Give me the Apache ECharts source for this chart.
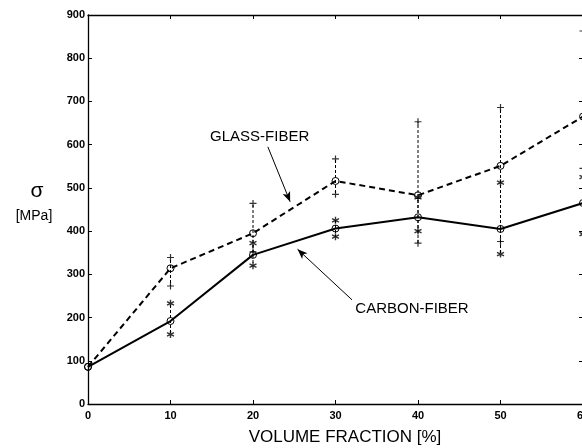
<!DOCTYPE html>
<html>
<head>
<meta charset="utf-8">
<script src="https://cdn.jsdelivr.net/npm/echarts@6/dist/echarts.min.js"></script>
<style>
  html, body { margin: 0; padding: 0; background: #fff; }
  #main { width: 582px; height: 448px; }
</style>
</head>
<body>
<div id="main"></div>
<script>
// volume fraction [%]
var fractions = [0, 10, 20, 30, 40, 50, 60];
// glass fiber: mean, max, min  [MPa]
var glassMean = [86, 314, 395, 516, 483, 551, 665];
var glassMax  = [null, 339, 464, 567, 653, 686, 863];
var glassMin  = [null, 273, 352, 485, 372, 376, 545];
// carbon fiber: mean, max, min  [MPa]
var carbonMean = [86, 192, 345, 406, 432, 405, 465];
var carbonMax  = [null, 233, 372, 425, 478, 512, 525];
var carbonMin  = [null, 161, 320, 387, 400, 347, 393];

var plusPath = 'path://M0,-1L0,1M-1,0L1,0';
var starPath = 'path://M0,-1L0,1M-0.87,-0.5L0.87,0.5M-0.87,0.5L0.87,-0.5';

function pairs(ys) {
  var out = [];
  for (var i = 0; i < fractions.length; i++) {
    if (ys[i] != null) out.push([fractions[i], ys[i]]);
  }
  return out;
}
function ranges(lo, hi) {
  var out = [];
  for (var i = 0; i < fractions.length; i++) {
    if (lo[i] != null && hi[i] != null) out.push([fractions[i], lo[i], hi[i]]);
  }
  return out;
}
// dashed vertical bar, dash phase tied to the page so overlapping bars stay dashed
function errBar(params, api) {
  var top = api.coord([api.value(0), api.value(2)]);
  var bot = api.coord([api.value(0), api.value(1)]);
  return {
    type: 'line',
    shape: { x1: top[0], y1: top[1], x2: bot[0], y2: bot[1] },
    style: { stroke: '#000', lineWidth: 1, lineDash: [3, 2], lineDashOffset: top[1] % 5 }
  };
}
function tick() {
  return { show: true, inside: true, length: 4, lineStyle: { color: '#000', width: 1 } };
}
function axLine() {
  return { show: true, onZero: false, lineStyle: { color: '#000', width: 1.3 } };
}

var font = 'Liberation Sans, Arial, Helvetica, sans-serif';
var chart = echarts.init(document.getElementById('main'));

var option = {
  animation: false,
  backgroundColor: '#fff',
  grid: { left: 88, top: 15, width: 495, height: 389, containLabel: false, outerBoundsMode: 'none' },
  xAxis: [
    {
      type: 'value', min: 0, max: 60, interval: 10, position: 'bottom',
      axisLine: axLine(), axisTick: tick(), splitLine: { show: false },
      axisLabel: { color: '#000', fontFamily: font, fontWeight: 'bold', fontSize: 11, margin: 6 }
    },
    {
      type: 'value', min: 0, max: 60, interval: 10, position: 'top',
      axisLine: axLine(), axisTick: tick(), splitLine: { show: false },
      axisLabel: { show: false }
    }
  ],
  yAxis: [
    {
      type: 'value', min: 0, max: 900, interval: 100, position: 'left',
      axisLine: axLine(), axisTick: tick(), splitLine: { show: false },
      axisLabel: { color: '#000', fontFamily: font, fontWeight: 'bold', fontSize: 11, margin: 3 }
    },
    {
      type: 'value', min: 0, max: 900, interval: 100, position: 'right',
      axisLine: axLine(), axisTick: tick(), splitLine: { show: false },
      axisLabel: { show: false }
    }
  ],
  series: [
    {
      name: 'glass range', type: 'custom', renderItem: errBar, clip: false, z: 1,
      encode: { x: 0, y: [1, 2] }, data: ranges(glassMin, glassMax)
    },
    {
      name: 'carbon range', type: 'custom', renderItem: errBar, clip: false, z: 1,
      encode: { x: 0, y: [1, 2] }, data: ranges(carbonMin, carbonMax)
    },
    {
      name: 'glass max', type: 'scatter', symbol: plusPath, symbolSize: 7, z: 2,
      itemStyle: { color: 'none', borderColor: '#000', borderWidth: 1.2 },
      data: pairs(glassMax)
    },
    {
      name: 'glass min', type: 'scatter', symbol: plusPath, symbolSize: 7, z: 2,
      itemStyle: { color: 'none', borderColor: '#000', borderWidth: 1.2 },
      data: pairs(glassMin)
    },
    {
      name: 'carbon max', type: 'scatter', symbol: starPath, symbolSize: 7, z: 2,
      itemStyle: { color: 'none', borderColor: '#000', borderWidth: 1.4 },
      data: pairs(carbonMax)
    },
    {
      name: 'carbon min', type: 'scatter', symbol: starPath, symbolSize: 7, z: 2,
      itemStyle: { color: 'none', borderColor: '#000', borderWidth: 1.4 },
      data: pairs(carbonMin)
    },
    {
      name: 'GLASS-FIBER', type: 'line', z: 3,
      symbol: 'circle', symbolSize: 7,
      itemStyle: { color: 'none', borderColor: '#000', borderWidth: 1 },
      lineStyle: { color: '#000', width: 2, type: [6, 4] },
      data: pairs(glassMean),
      markLine: {
        silent: true, symbol: ['none', 'arrow'], symbolSize: [6, 10],
        label: { show: false },
        lineStyle: { color: '#000', width: 1, type: 'solid' },
        data: [[{ coord: [21.8, 595] }, { coord: [24.5, 468] }]]
      }
    },
    {
      name: 'CARBON-FIBER', type: 'line', z: 3,
      symbol: 'circle', symbolSize: 7,
      itemStyle: { color: 'none', borderColor: '#000', borderWidth: 1 },
      lineStyle: { color: '#000', width: 2, type: 'solid' },
      data: pairs(carbonMean),
      markLine: {
        silent: true, symbol: ['none', 'arrow'], symbolSize: [6, 10],
        label: { show: false },
        lineStyle: { color: '#000', width: 1, type: 'solid' },
        data: [[{ coord: [32.0, 241] }, { coord: [25.4, 358] }]]
      }
    }
  ]
};
chart.setOption(option);

var gPos = chart.convertToPixel({ gridIndex: 0 }, [14.8, 618]);
var cPos = chart.convertToPixel({ gridIndex: 0 }, [32.4, 220]);
chart.setOption({
  graphic: [
    { type: 'text', left: gPos[0], top: gPos[1] - 8,
      style: { text: 'GLASS-FIBER', fill: '#000', font: '15px ' + font } },
    { type: 'text', left: cPos[0], top: cPos[1] - 8,
      style: { text: 'CARBON-FIBER', fill: '#000', font: '15px ' + font } },
    { type: 'text', x: 37, y: 191,
      style: { text: 'σ', fill: '#000', font: '21px ' + font, align: 'center', verticalAlign: 'middle' } },
    { type: 'text', x: 34, y: 216,
      style: { text: '[MPa]', fill: '#000', font: '14px ' + font, align: 'center', verticalAlign: 'middle' } },
    { type: 'text', x: 345, y: 437,
      style: { text: 'VOLUME FRACTION [%]', fill: '#000', font: '17px ' + font, align: 'center', verticalAlign: 'middle' } }
  ]
});
</script>
</body>
</html>
